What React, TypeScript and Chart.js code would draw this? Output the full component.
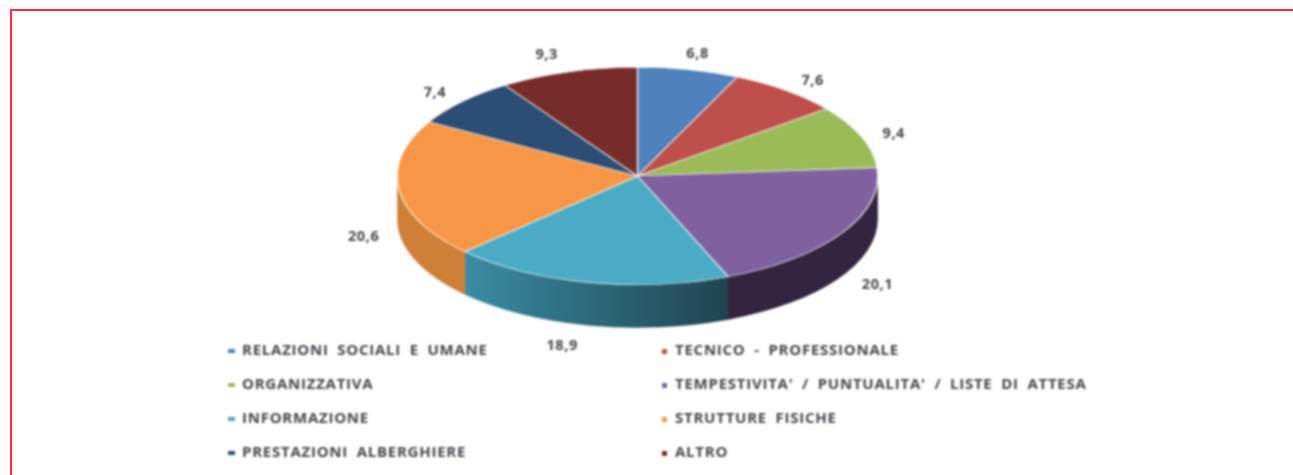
import React, { useEffect, useRef } from "react";
import { Chart, registerables } from "chart.js";

Chart.register(...registerables);

const categories = [
  "RELAZIONI SOCIALI E UMANE",
  "TECNICO - PROFESSIONALE",
  "ORGANIZZATIVA",
  "TEMPESTIVITA' / PUNTUALITA' / LISTE DI ATTESA",
  "INFORMAZIONE",
  "STRUTTURE FISICHE",
  "PRESTAZIONI ALBERGHIERE",
  "ALTRO",
];
const values = [6.8, 7.6, 9.4, 20.1, 18.9, 20.6, 7.4, 9.3];
const valueLabels = ["6,8", "7,6", "9,4", "20,1", "18,9", "20,6", "7,4", "9,3"];
const topColors = ["#4F81BD", "#BE4F4C", "#9BBB59", "#8061A0", "#4BABC5", "#F79646", "#2C4D75", "#772C2A"];
const wallColors = ["#3B618E", "#8F3B39", "#748C43", "#33243F", "#3A8CA3", "#CF7F37", "#213A58", "#591F1F"];

const STRETCH = 241 / 109;
const DEPTH = 43;
const TEXT = "#45454D";
const labelNudgeX = [2, 6, 1, 7, -19, -2, -3, -12];
const labelNudgeY = [-1, 2, 3, 1, 6, 3, 2, -2];

const pie3d = {
  id: "pie3d",
  beforeDatasetsDraw(chart: any) {
    const ctx = chart.ctx;
    const arcs = chart.getDatasetMeta(0).data;
    const cx = arcs[0].x;
    const cy = arcs[0].y;
    const r = arcs[0].outerRadius;
    arcs.forEach((a: any, i: number) => {
      const s = Math.max(a.startAngle, 0);
      const e = Math.min(a.endAngle, Math.PI);
      // chart.js runs angles from -PI/2 up to 3PI/2, the front half is 0..PI
      if (e <= s) return;
      ctx.save();
      ctx.beginPath();
      ctx.ellipse(cx, cy, r * STRETCH, r, 0, s, e);
      ctx.ellipse(cx, cy + DEPTH, r * STRETCH, r, 0, e, s, true);
      ctx.closePath();
      if (i === 4) {
        const x0 = cx + r * STRETCH * Math.cos(e);
        const x1 = cx + r * STRETCH * Math.cos(s);
        const g = ctx.createLinearGradient(x0, 0, x1, 0);
        g.addColorStop(0, wallColors[i]);
        g.addColorStop(1, "#1F4450");
        ctx.fillStyle = g;
      } else {
        ctx.fillStyle = wallColors[i];
      }
      ctx.fill();
      ctx.restore();
    });
    ctx.save();
    ctx.translate(cx, cy);
    ctx.scale(STRETCH, 1);
    ctx.translate(-cx, -cy);
  },
  afterDatasetsDraw(chart: any) {
    const ctx = chart.ctx;
    ctx.restore();
    const arcs = chart.getDatasetMeta(0).data;
    const cx = arcs[0].x;
    const cy = arcs[0].y;
    const r = arcs[0].outerRadius;

    ctx.save();
    ctx.font = "bold 14.5px 'Open Sans', sans-serif";
    (ctx as any).letterSpacing = "0.6px";
    ctx.fillStyle = TEXT;
    ctx.textAlign = "center";
    ctx.textBaseline = "middle";
    arcs.forEach((a: any, i: number) => {
      const mid = (a.startAngle + a.endAngle) / 2;
      const x = cx + r * STRETCH * 1.14 * Math.cos(mid);
      const sy = Math.sin(mid);
      const y = cy + r * 1.14 * sy + (sy > 0 ? DEPTH : 0);
      ctx.fillText(valueLabels[i], x + labelNudgeX[i], y + labelNudgeY[i]);
    });
    ctx.restore();

    // two-column legend from the chart's own labels and colours
    ctx.save();
    ctx.font = "bold 15px 'Open Sans', sans-serif";
    (ctx as any).wordSpacing = "4px";
    (ctx as any).letterSpacing = "0.75px";
    ctx.textBaseline = "middle";
    ctx.textAlign = "left";
    chart.data.labels.forEach((label: string, i: number) => {
      const col = i % 2;
      const row = Math.floor(i / 2);
      const y = 351 + row * 34;
      const mx = col === 0 ? 228 : 662;
      ctx.fillStyle = topColors[i];
      ctx.fillRect(mx, y - 2, col === 0 ? 7 : 5, col === 0 ? 4 : 5);
      ctx.fillStyle = TEXT;
      ctx.fillText(label, col === 0 ? 242 : 675, y);
    });
    ctx.restore();
  },
};

export default function App() {
  const ref = useRef<HTMLCanvasElement>(null);
  useEffect(() => {
    document.body.style.margin = "0";
    const chart = new Chart(ref.current!, {
      type: "pie",
      data: {
        labels: categories,
        datasets: [
          {
            data: values,
            backgroundColor: topColors,
            borderColor: "rgba(255,255,255,0.85)",
            borderWidth: 0.6,
          },
        ],
      },
      options: {
        responsive: false,
        animation: false,
        layout: { padding: { top: 67, bottom: 190, left: 0, right: 18 } },
        plugins: { legend: { display: false }, tooltip: { enabled: false }, title: { display: false } },
      },
      plugins: [pie3d],
    } as any);
    return () => chart.destroy();
  }, []);
  return (
    <div style={{ position: "relative", width: 1293, height: 475, overflow: "hidden", background: "#fff" }}>
      <div
        style={{
          position: "absolute",
          left: 10,
          top: 9,
          width: 1400,
          height: 600,
          border: "2px solid #FF2A38",
          boxSizing: "border-box",
          filter: "blur(0.4px)",
        }}
      />
      <canvas
        ref={ref}
        width={1293}
        height={475}
        style={{ position: "absolute", left: 0, top: 0, filter: "blur(0.8px)" }}
      />
    </div>
  );
}
